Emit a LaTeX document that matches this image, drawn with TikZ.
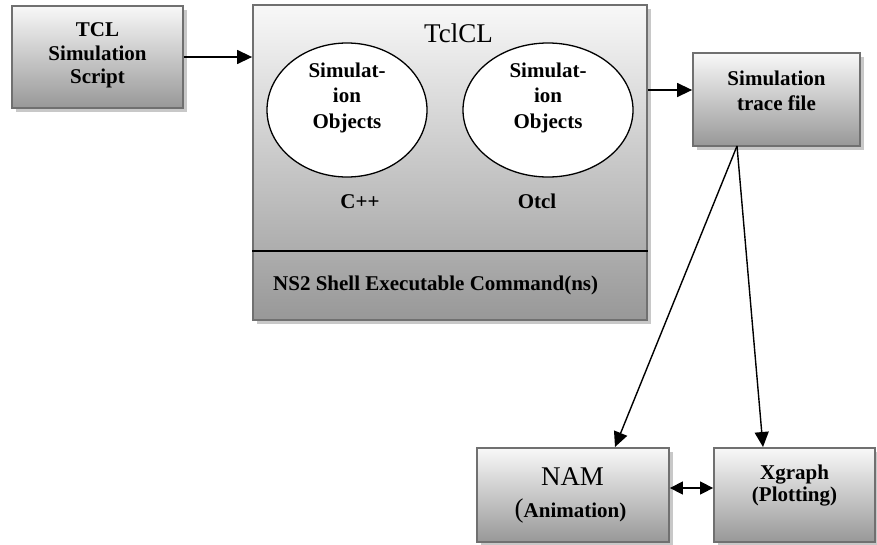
\documentclass[tikz,border=0pt]{standalone}
\usepackage{fontspec}
\setmainfont{Liberation Serif}
\usetikzlibrary{shapes.geometric,arrows.meta,shadows}
\definecolor{edgegray}{HTML}{707070}
\definecolor{topgray}{HTML}{F8F8F8}
\definecolor{botgray}{HTML}{989898}
\definecolor{shadowgray}{HTML}{C8C8C8}
\begin{document}
\begin{tikzpicture}[x=1pt,y=-1pt,
  box/.style={rectangle, draw=edgegray, line width=1.8pt, top color=topgray, bottom color=botgray,
    inner sep=0pt, align=center,
    general shadow={fill=shadowgray, shadow xshift=3.5pt, shadow yshift=-3.5pt}},
  objell/.style={ellipse, draw=black, line width=1.3pt, fill=white, inner sep=0pt},
  btxt/.style={font=\fontsize{21}{23.5}\selectfont\bfseries, align=center, inner sep=0pt},
  arr/.style={line width=1.4pt, -{Triangle[length=15pt,width=14pt]}},
  darr/.style={line width=1.4pt, {Triangle[length=13pt,width=13pt]}-{Triangle[length=13pt,width=13pt]}}
]
\useasboundingbox (0,0) rectangle (877,544);

% boxes
\node[box, minimum width=171pt, minimum height=102pt] (tcl) at (97.5,57) {};
\node[btxt, font=\fontsize{21}{23.5}\selectfont\bfseries] (tcltxt) at (97.5,55.7) {TCL\\Simulation\\Script};

\node[box, minimum width=394pt, minimum height=315pt] (big) at (450,162.5) {};
\coordinate (div) at (0,251);
\draw[line width=1.5pt] (big.west |- div) -- (big.east |- div);
\node[inner sep=0pt, font=\fontsize{27}{28}\selectfont, anchor=base] (tclcl) at (458.5,42) {TclCL};

\node[objell, minimum width=160pt, minimum height=134pt] (e1) at (347,110) {};
\node[objell, minimum width=170pt, minimum height=134pt] (e2) at (548,110) {};
\node[btxt, font=\fontsize{21}{25.5}\selectfont\bfseries] (e1t) at (347,97.5) {Simulat-\\ion\\Objects};
\node[btxt, font=\fontsize{21}{25.5}\selectfont\bfseries] (e2t) at (548,97.5) {Simulat-\\ion\\Objects};
\node[btxt, anchor=base] (cpp) at (360,208) {C++};
\node[btxt, anchor=base] (otcl) at (537,208) {Otcl};
\node[btxt, anchor=base west] (ns2) at (273,290) {NS2 Shell Executable Command(ns)};

\node[box, minimum width=167pt, minimum height=93pt] (trace) at (776.5,99.5) {};
\node[btxt, font=\fontsize{21}{25}\selectfont\bfseries] (tracetxt) at (776.5,90.5) {Simulation\\trace file};

\node[box, minimum width=192pt, minimum height=94pt] (nam) at (573,495) {};
\node[inner sep=0pt, font=\fontsize{27}{28}\selectfont, anchor=base] (namtxt) at (572.5,485) {NAM};
\node[inner sep=0pt, anchor=base] (animtxt) at (570.5,517) {\fontsize{27}{28}\selectfont(\fontsize{21}{23}\selectfont\bfseries Animation)};

\node[box, minimum width=161pt, minimum height=94pt] (xg) at (794.5,495) {};
\node[btxt, font=\fontsize{21}{22}\selectfont\bfseries] (xgtxt) at (794.5,486) {Xgraph\\(Plotting)};

% connectors
\draw[arr] (tcl.east) -- (tcl.east -| big.west);
\coordinate (ty) at (0,90);
\draw[arr] (big.east |- ty) -- (trace.west |- ty);
\coordinate (tsrc) at (737,146);
\coordinate (namtop) at (615,447);
\coordinate (xgtop) at (763,447);
\draw[arr] (tsrc) -- (namtop);
\draw[arr] (tsrc) -- (xgtop);
\coordinate (dy) at (0,488);
\draw[darr] (nam.east |- dy) -- (xg.west |- dy);
\end{tikzpicture}
\end{document}
